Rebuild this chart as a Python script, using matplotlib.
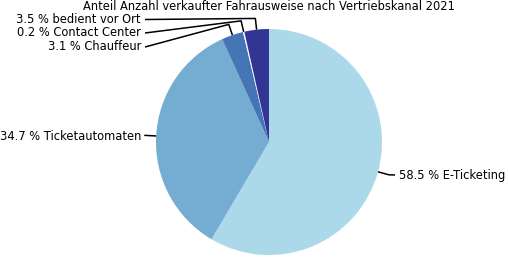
import numpy as np
import matplotlib
matplotlib.use("Agg")
import matplotlib.pyplot as plt

title = "Anteil Anzahl verkaufter Fahrausweise nach Vertriebskanal 2021"
categories = ["E-Ticketing", "Ticketautomaten", "Chauffeur", "Contact Center", "bedient vor Ort"]
values = [58.5, 34.7, 3.1, 0.2, 3.5]
colors = ["#abd9e9", "#74add1", "#4575b4", "#f2f9fc", "#313695"]

W, H = 508, 257
fig = plt.figure(figsize=(W / 100, H / 100), dpi=100)
ax = fig.add_axes([0, 0, 1, 1])
cx, cy, R = 269, 115, 113

wedges, _ = ax.pie(values, colors=colors, startangle=90, counterclock=False,
                   center=(cx, cy), radius=R, wedgeprops=dict(linewidth=0))
ax.set_xlim(0, W)
ax.set_ylim(0, H)
ax.set_aspect("equal")
ax.axis("off")

fs = 8.3
ax.text(cx, 250, title, ha="center", va="center", fontsize=fs)

# label text anchors (layout)
label_pos = {
    "E-Ticketing": (399, 82, "left"),
    "Ticketautomaten": (141, 121, "right"),
    "Chauffeur": (141, 210, "right"),
    "Contact Center": (141, 224, "right"),
    "bedient vor Ort": (141, 237.5, "right"),
}
for w, cat, v in zip(wedges, categories, values):
    ang = np.deg2rad((w.theta1 + w.theta2) / 2)
    p0 = (cx + R * np.cos(ang), cy + R * np.sin(ang))
    p1 = (cx + 1.1 * R * np.cos(ang), cy + 1.1 * R * np.sin(ang))
    tx, ty, ha = label_pos[cat]
    lx = tx - 4 if ha == "left" else tx + 4
    ax.plot([p0[0], p1[0], lx], [p0[1], p1[1], ty], color="black", lw=1.1,
            solid_capstyle="butt")
    ax.text(tx, ty, f"{v:.1f} % {cat}", ha=ha, va="center", fontsize=fs)

fig.savefig("out.png", dpi=100)
